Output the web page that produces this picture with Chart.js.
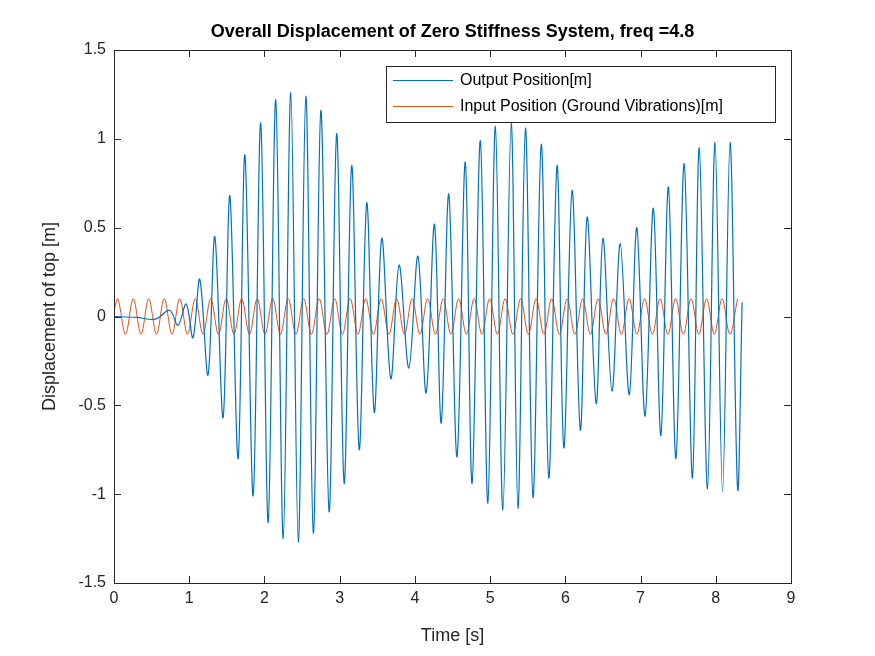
<!DOCTYPE html>
<html>
<head>
<meta charset="utf-8">
<script src="https://cdn.jsdelivr.net/npm/chart.js@4"></script>
<style>
  html, body { margin: 0; padding: 0; background: #fff; }
  #wrap { width: 875px; height: 656px; }
</style>
</head>
<body>
<div id="wrap"><canvas id="chart" width="875" height="656"></canvas></div>
<script>
// ── Data ──────────────────────────────────────────────────

// output: times [s] of the peaks / troughs and their values [m]
const outTimes = [
  0, 0.3, 0.55, 0.74, 0.85, 0.96, 1.05, 1.14, 1.25, 1.34, 1.45, 1.54, 1.65, 1.74,
  1.85, 1.95, 2.05, 2.15, 2.25, 2.35, 2.45, 2.55, 2.65, 2.75, 2.86, 2.96, 3.06,
  3.16, 3.26, 3.36, 3.46, 3.56, 3.68, 3.79, 3.92, 4.04, 4.15, 4.26, 4.35, 4.45,
  4.56, 4.67, 4.76, 4.87, 4.97, 5.07, 5.17, 5.28, 5.37, 5.47, 5.57, 5.68, 5.78,
  5.89, 5.98, 6.09, 6.2, 6.29, 6.41, 6.5, 6.62, 6.73, 6.85, 6.95, 7.06, 7.17,
  7.27, 7.37, 7.47, 7.58, 7.69, 7.78, 7.89, 7.99, 8.09, 8.19, 8.29, 8.35,
];
const outValues = [
  0, -0.005, -0.015, 0.035, -0.05, 0.07, -0.12, 0.21, -0.33, 0.45, -0.57, 0.68,
  -0.8, 0.91, -1.01, 1.09, -1.16, 1.22, -1.25, 1.26, -1.27, 1.24, -1.22, 1.16,
  -1.1, 1.03, -0.94, 0.85, -0.75, 0.64, -0.54, 0.44, -0.35, 0.29, -0.29, 0.34,
  -0.43, 0.52, -0.6, 0.69, -0.79, 0.87, -0.94, 0.99, -1.05, 1.07, -1.09, 1.09,
  -1.08, 1.06, -1.02, 0.97, -0.91, 0.85, -0.74, 0.71, -0.64, 0.56, -0.49, 0.44,
  -0.42, 0.41, -0.44, 0.5, -0.56, 0.61, -0.67, 0.73, -0.8, 0.86, -0.91, 0.95,
  -0.97, 0.98, -0.99, 0.98, -0.97, 0.08,
];

// input (ground vibration): extremes start at 0.05 s, one every half period
const inStart = 0.05;
const inHalfPeriod = 0.103;
const inValues = [
  0.1, -0.1, 0.1, -0.1, 0.1, -0.1, 0.1, -0.1, 0.1, -0.1,
  0.1, -0.1, 0.1, -0.1, 0.1, -0.1, 0.1, -0.1, 0.1, -0.1,
  0.1, -0.1, 0.1, -0.1, 0.1, -0.1, 0.1, -0.1, 0.1, -0.1,
  0.1, -0.1, 0.1, -0.1, 0.1, -0.1, 0.1, -0.1, 0.1, -0.1,
  0.1, -0.1, 0.1, -0.1, 0.1, -0.1, 0.1, -0.1, 0.1, -0.1,
  0.1, -0.1, 0.1, -0.1, 0.1, -0.1, 0.1, -0.1, 0.1, -0.1,
  0.1, -0.1, 0.1, -0.1, 0.1, -0.1, 0.1, -0.1, 0.1, -0.1,
  0.1, -0.1, 0.1, -0.1, 0.1, -0.1, 0.1, -0.1, 0.1, -0.1,
  0.1,
];

const xTicks = [0, 1, 2, 3, 4, 5, 6, 7, 8, 9];
const yTicks = [-1.5, -1, -0.5, 0, 0.5, 1, 1.5];

const titleText = "Overall Displacement of Zero Stiffness System, freq =4.8";
const xTitle = "Time [s]";
const yTitle = "Displacement of top [m]";
const outLabel = "Output Position[m]";
const inLabel = "Input Position (Ground Vibrations)[m]";

// ── Chart ─────────────────────────────────────────────────

const BLUE = "#0072BD";
const ORANGE = "#D95319";
const FONT = "'Liberation Sans', Arial, sans-serif";

const outPoints = outTimes.map((t, i) => ({ x: t, y: outValues[i] }));
const inPoints = [{ x: 0, y: 0.03 }].concat(
  inValues.map((v, i) => ({ x: inStart + i * inHalfPeriod, y: v }))
);

// box, inward ticks, titles and legend, drawn MATLAB style
const matlabFrame = {
  id: "matlabFrame",
  afterDraw(chart) {
    const { ctx, chartArea: a, scales } = chart;
    ctx.save();
    ctx.strokeStyle = "#262626";
    ctx.lineWidth = 1;
    ctx.strokeRect(a.left + 0.5, a.top + 0.5, a.right - a.left, a.bottom - a.top);
    ctx.beginPath();
    xTicks.forEach((t) => {
      const px = Math.round(scales.x.getPixelForValue(t)) + 0.5;
      ctx.moveTo(px, a.bottom); ctx.lineTo(px, a.bottom - 7);
      ctx.moveTo(px, a.top); ctx.lineTo(px, a.top + 7);
    });
    yTicks.forEach((t) => {
      const py = Math.round(scales.y.getPixelForValue(t)) + 0.5;
      ctx.moveTo(a.left, py); ctx.lineTo(a.left + 7, py);
      ctx.moveTo(a.right, py); ctx.lineTo(a.right - 7, py);
    });
    ctx.stroke();

    ctx.fillStyle = "#000";
    ctx.font = "bold 18px " + FONT;
    ctx.textAlign = "center";
    ctx.textBaseline = "middle";
    ctx.fillText(titleText, (a.left + a.right) / 2, 32);

    ctx.fillStyle = "#262626";
    ctx.font = "18px " + FONT;
    ctx.fillText(xTitle, (a.left + a.right) / 2, 636);
    ctx.save();
    ctx.translate(50, (a.top + a.bottom) / 2);
    ctx.rotate(-Math.PI / 2);
    ctx.fillText(yTitle, 0, 0);
    ctx.restore();

    // legend box
    const lx = 386, ly = 66, lw = 389, lh = 56;
    ctx.fillStyle = "#fff";
    ctx.fillRect(lx, ly, lw, lh);
    ctx.strokeStyle = "#262626";
    ctx.strokeRect(lx + 0.5, ly + 0.5, lw, lh);
    ctx.strokeStyle = BLUE;
    ctx.beginPath(); ctx.moveTo(393, 80.5); ctx.lineTo(453, 80.5); ctx.stroke();
    ctx.strokeStyle = ORANGE;
    ctx.beginPath(); ctx.moveTo(393, 106.5); ctx.lineTo(453, 106.5); ctx.stroke();
    ctx.fillStyle = "#000";
    ctx.font = "16px " + FONT;
    ctx.textAlign = "left";
    ctx.fillText(outLabel, 460, 81);
    ctx.fillText(inLabel, 460, 107);
    ctx.restore();
  },
};

new Chart(document.getElementById("chart"), {
  type: "line",
  data: {
    datasets: [
      {
        label: outLabel,
        data: outPoints,
        borderColor: BLUE,
        borderWidth: 1.2,
        pointRadius: 0,
        tension: 0.35,
      },
      {
        label: inLabel,
        data: inPoints,
        borderColor: ORANGE,
        borderWidth: 1,
        pointRadius: 0,
        tension: 0.35,
      },
    ],
  },
  options: {
    responsive: false,
    animation: false,
    layout: { padding: { top: 50, right: 84, left: 0, bottom: 0 } },
    plugins: { legend: { display: false }, tooltip: { enabled: false } },
    scales: {
      x: {
        type: "linear",
        min: 0,
        max: 9,
        afterBuildTicks: (s) => { s.ticks = xTicks.map((v) => ({ value: v })); },
        afterFit: (s) => { s.height = 73; },
        grid: { display: false, drawTicks: false },
        border: { display: false },
        ticks: { color: "#262626", font: { size: 16, family: FONT }, padding: 6, maxRotation: 0,
                 callback: (v) => String(v) },
      },
      y: {
        min: -1.5,
        max: 1.5,
        afterBuildTicks: (s) => { s.ticks = yTicks.map((v) => ({ value: v })); },
        afterFit: (s) => { s.width = 114; },
        grid: { display: false, drawTicks: false },
        border: { display: false },
        ticks: { color: "#262626", font: { size: 16, family: FONT }, padding: 8,
                 callback: (v) => String(v) },
      },
    },
  },
  plugins: [matlabFrame],
});
</script>
</body>
</html>
